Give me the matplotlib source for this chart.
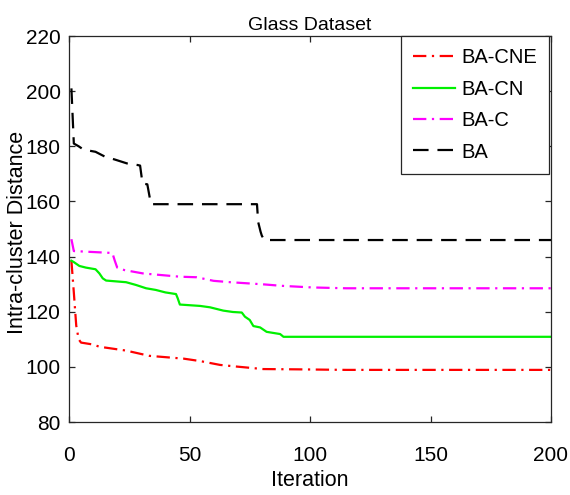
import matplotlib
matplotlib.use('Agg')
import matplotlib.pyplot as plt

plt.rcParams['font.family'] = ['Liberation Sans', 'DejaVu Sans']

# BA-CNE (red dash-dot)
cne_iter = [1, 2, 3, 4, 5, 10, 12.6, 23.7, 33.3, 45.8, 47.4, 54.4, 62.7, 69.6, 80.6, 94.5, 115, 200]
cne_val = [138.5, 127, 115, 110, 108.8, 108.1, 107.3, 105.9, 104.0, 103.1, 103.0, 102.1, 100.7, 100.1, 99.2, 99.1, 98.9, 98.9]

# BA-CN (green solid)
cn_iter = [1, 2, 4.3, 7, 11, 12.6, 14, 15.4, 23.7, 27.8, 32, 36, 40, 44.4, 45.1, 46, 54.4, 58.5, 64,
           68, 71.7, 73, 75, 76.5, 79.3, 82, 87.6, 89, 200]
cn_val = [138.5, 138, 136.6, 136, 135.4, 133.9, 132.1, 131.3, 130.7, 129.7, 128.5, 127.9, 127.0, 126.4,
          124.9, 122.6, 122.1, 121.6, 120.4, 119.9, 119.7, 118.2, 117.0, 114.8, 114.3, 112.7, 111.9, 110.9, 110.9]

# BA-C (magenta dash-dot)
c_iter = [1, 2, 18, 19, 20, 21, 23, 30.6, 33, 46, 53, 60, 67, 74, 81, 88, 101, 115, 200]
c_val = [146.3, 142, 141.3, 138.5, 136, 135.6, 135.1, 133.9, 133.7, 132.7, 132.5, 131.2, 130.7, 130.3,
         129.9, 129.4, 128.8, 128.5, 128.5]

# BA (black dashed)
ba_iter = [1, 2, 4, 6, 11, 15, 19, 24, 28.5, 29.5, 30.5, 32.5, 34, 78, 78.5, 79.5, 80, 81, 200]
ba_val = [201, 181, 180, 178.8, 178, 176.2, 175.2, 173.8, 173.2, 173, 166.5, 166.2, 159, 159, 152.5,
          149, 147.6, 146, 146]

fig = plt.figure(figsize=(5.7, 4.95), dpi=100)
ax = fig.add_axes([69 / 570, 1 - 422 / 495, 482 / 570, 386 / 495])

ax.plot(cne_iter, cne_val, color='#ff0000', lw=1.6, dashes=(6, 2.5, 1, 2.5), label='BA-CNE')
ax.plot(cn_iter, cn_val, color='#00f000', lw=1.6, label='BA-CN')
ax.plot(c_iter, c_val, color='#ff00ff', lw=1.6, dashes=(6, 2.5, 1, 2.5), label='BA-C')
ax.plot(ba_iter, ba_val, color='black', lw=1.6, dashes=(7, 4), label='BA')

ax.set_xlim(0, 200)
ax.set_ylim(80, 220)
ax.set_xticks([0, 50, 100, 150, 200])
ax.set_yticks(range(80, 221, 20))

for s in ax.spines.values():
    s.set_color('#262626')
    s.set_linewidth(0.9)
ax.tick_params(direction='in', length=4.5, width=0.9, color='#262626', labelsize=15,
               top=True, right=True)
ax.tick_params(axis='x', pad=17)
ax.tick_params(axis='y', pad=6)

ax.set_title('Glass Dataset', fontsize=14, pad=4)
ax.set_xlabel('Iteration', fontsize=15.5)
ax.set_ylabel('Intra-cluster Distance', fontsize=15.5)
ax.xaxis.set_label_coords(0.5, -0.125)
ax.yaxis.set_label_coords(-0.085, 0.49)

leg = ax.legend(loc='upper right', bbox_to_anchor=(0.996, 1.0), borderaxespad=0,
                fontsize=14.5, handlelength=2.1, handletextpad=0.3, labelspacing=0.62,
                fancybox=False, framealpha=1, edgecolor='#262626', borderpad=0.6)
leg.get_frame().set_linewidth(0.9)

fig.savefig('out.png', dpi=100)
